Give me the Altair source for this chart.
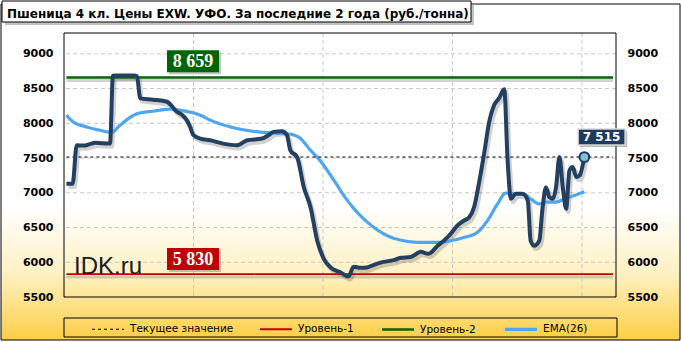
import altair as alt
import pandas as pd

# ---------------- data ----------------
title_text = "Пшеница 4 кл. Цены EXW. УФО. За последние 2 года (руб./тонна)"
tick_weeks = [0, 27, 54, 81, 108]
tick_labels = ["23.09.2016", "10.04.2017", "16.10.2017", "23.04.2018", "22.10.2018"]
y_ticks = [5500, 6000, 6500, 7000, 7500, 8000, 8500, 9000]

price_w = [0.5, 1.8, 2.65, 4.4, 5.4, 6.5, 9.6, 10.2, 10.8, 14.6, 15.2, 15.9, 18.6, 21.5, 22.2,
           23.5, 24.7, 25.6, 26.3, 27.0, 28.4, 30.5, 33.2, 36.1, 38.2, 41.3, 42.6, 43.7, 45.5,
           46.5, 47.2, 48.6, 50.0, 51.4, 52.8, 54.2, 55.6, 57.7, 59.3, 60.4, 61.8, 63.2, 64.5,
           66.6, 68.7, 70.2, 72.3, 74.4, 76.0, 77.9, 79.2, 80.6, 82.0, 83.4, 84.5, 85.5, 86.5,
           87.6, 88.6, 89.7, 90.7, 91.8, 92.5, 93.2, 94.2, 95.6, 96.7, 97.3, 98.0, 99.1, 99.8,
           100.5, 101.2, 101.9, 102.6, 103.3, 104.0, 104.7, 105.4, 106.1, 106.8, 107.5, 108.5]
price_v = [7130, 7130, 7684, 7680, 7700, 7720, 7709, 8686, 8690, 8690, 8680, 8359, 8340, 8310, 8270,
           8169, 8118, 8046, 7949, 7829, 7781, 7756, 7708, 7684, 7756, 7781, 7829, 7877, 7887,
           7829, 7612, 7515, 7081, 6792, 6310, 6046, 5925, 5853, 5795, 5937, 5920, 5925, 5960,
           6005, 6030, 6065, 6075, 6150, 6122, 6238, 6310, 6407, 6527, 6600, 6648, 6792, 7130,
           7564, 7998, 8263, 8359, 8489, 7467, 6913, 6986, 6986, 6889, 6310, 6238, 6310, 6792,
           7081, 6937, 6913, 7081, 7515, 7081, 6769, 7323, 7370, 7226, 7250, 7515]

ema_w = [0.5, 1.9, 4.7, 7.5, 9.9, 11.7, 15.2, 18.7, 22.1, 25.3, 28.4, 30.5, 34.7, 38.9, 43.0,
         47.2, 49.3, 51.4, 53.5, 56.3, 59.1, 61.8, 64.6, 67.4, 70.9, 74.4, 77.9, 81.3, 83.4,
         86.2, 88.3, 90.4, 92.1, 93.9, 96.0, 97.3, 99.1, 100.8, 102.6, 104.3, 106.4, 108.5]
ema_v = [8118, 8021, 7949, 7901, 7870, 7973, 8137, 8176, 8203, 8175, 8118, 8046, 7949, 7891, 7862,
         7843, 7781, 7612, 7455, 7178, 6889, 6672, 6503, 6383, 6310, 6286, 6286, 6320, 6358,
         6431, 6600, 6841, 6995, 6986, 6976, 6913, 6841, 6866, 6866, 6913, 6962, 7015]

series_names = ["Текущее значение", "Уровень-1", "Уровень-2", "EMA(26)"]
series_colors = ["#000000", "#c00000", "#006400", "#4ea5f0"]
series_dash = [[3, 3], [1, 0], [1, 0], [1, 0]]

current_value = 7515
level1_value = 5830
level2_value = 8659
level_names = ["Текущее значение", "Уровень-1", "Уровень-2"]
level_values = [current_value, level1_value, level2_value]
level_start = [0.5, 0.5, 0.5]
level_end = [114.5, 114.5, 114.5]

badge_text = ["8 659", "5 830"]
badge_w = [26.9, 26.9]
badge_v = [8895, 6047]
badge_fill = ["#006400", "#c00000"]

last_w = 108.5
last_badge_w = 112.1
last_badge_v = 7804
watermark = "IDK.ru"
watermark_w = 2.1
watermark_v = 5831

# ---------------- frames ----------------
price_df = pd.DataFrame({"w": price_w, "v": price_v})
ema_df = pd.DataFrame({"w": ema_w, "v": ema_v, "series": "EMA(26)"})
level_df = pd.DataFrame({"series": level_names, "v": level_values,
                         "w": level_start, "w2": level_end})
badge_df = pd.DataFrame({"t": badge_text, "w": badge_w, "v": badge_v, "fill": badge_fill})
last_df = pd.DataFrame({"w": [last_w], "v": [current_value]})
last_badge_df = pd.DataFrame({"w": [last_badge_w], "v": [last_badge_v], "t": ["7 515"]})
wm_df = pd.DataFrame({"w": [watermark_w], "v": [watermark_v], "t": [watermark]})
grid_y_df = pd.DataFrame({"v": y_ticks[1:]})
grid_x_df = pd.DataFrame({"w": tick_weeks[1:]})
one = alt.Data(values=[{"a": 1}])

W, H = 552, 264
xs = alt.Scale(domain=[0, 115.1], nice=False, zero=False)
ys = alt.Scale(domain=[5500, 9300], nice=False, zero=False)

label_expr = " : ".join(
    f"datum.value == {v} ? '{l}'" for v, l in zip(tick_weeks, tick_labels)) + " : ''"
x_axis = alt.Axis(values=tick_weeks, labelExpr=label_expr, grid=False, domain=False,
                  ticks=False, labelPadding=7, zindex=1,
                  labelFont="DejaVu Sans", labelFontWeight="bold", labelFontSize=10,
                  labelColor="#000000", title=None, labelFlush=False)
y_left = alt.Axis(values=y_ticks, orient="left", grid=False, domain=False, ticks=False,
                  labelPadding=11, zindex=1, format="d",
                  labelFont="DejaVu Sans", labelFontWeight="bold", labelFontSize=11,
                  labelColor="#000000", title=None)
y_right = alt.Axis(values=y_ticks, orient="right", grid=False, domain=False, ticks=False,
                   labelPadding=11, zindex=1, format="d",
                   labelFont="DejaVu Sans", labelFontWeight="bold",
                   labelFontSize=11, labelColor="#000000", title=None)

X = lambda ax=None: alt.X("w:Q", scale=xs, axis=ax)
Y = lambda ax=None: alt.Y("v:Q", scale=ys, axis=ax)


def leg():
    return alt.Legend(title=None, orient="none", direction="horizontal", columns=4,
                      legendX=26, legendY=278, symbolType="stroke", symbolSize=1024,
                      columnPadding=22, padding=0, labelFont="DejaVu Sans",
                      labelFontSize=10.5, labelColor="#000000", labelOffset=4)


color_enc = alt.Color("series:N", scale=alt.Scale(domain=series_names, range=series_colors),
                      legend=leg())
dash_enc = alt.StrokeDash("series:N", scale=alt.Scale(domain=series_names, range=series_dash),
                          legend=leg())
width_enc = alt.StrokeWidth("series:N",
                            scale=alt.Scale(domain=series_names, range=[1.2, 3.2], padding=0),
                            legend=leg())

grad = alt.LinearGradient(gradient="linear", x1=0, x2=0, y1=0, y2=1, stops=[
    alt.GradientStop(color="#ffffff", offset=0),
    alt.GradientStop(color="#ffffff", offset=0.6),
    alt.GradientStop(color="#fff1c4", offset=0.8),
    alt.GradientStop(color="#fdcf45", offset=1)])

bg = alt.Chart(one).mark_rect(fill=grad, stroke="#000000", strokeWidth=1).encode(
    x=alt.value(-63), x2=alt.value(616), y=alt.value(-29), y2=alt.value(307))

title_shadow = alt.Chart(one).mark_rect(fill="#9a9a9a", opacity=0.6).encode(
    x=alt.value(-59), x2=alt.value(410), y=alt.value(-29), y2=alt.value(-8))
title_box = alt.Chart(one).mark_rect(fill="#ffffff", stroke="#000000", strokeWidth=1).encode(
    x=alt.value(-62), x2=alt.value(407), y=alt.value(-32), y2=alt.value(-11))
title_txt = alt.Chart(one).mark_text(text=title_text, align="left", baseline="alphabetic",
                                     font="DejaVu Sans", fontWeight="bold", fontSize=12,
                                     color="#000000").encode(
    x=alt.value(-57), y=alt.value(-15))

legend_box = alt.Chart(one).mark_rect(fill=None, stroke="#000000", strokeWidth=1).encode(
    x=alt.value(0), x2=alt.value(553), y=alt.value(285), y2=alt.value(304))

grid_h = alt.Chart(grid_y_df).mark_rule(color="#c8c8c8", strokeWidth=1,
                                        strokeDash=[4, 3]).encode(y=Y())
grid_v = alt.Chart(grid_x_df).mark_rule(color="#c8c8c8", strokeWidth=1,
                                        strokeDash=[4, 3]).encode(x=X())
frame = alt.Chart(one).mark_rect(fill=None, stroke="#000000", strokeWidth=1).encode(
    x=alt.value(0), x2=alt.value(W), y=alt.value(0), y2=alt.value(H))

price_shadow = alt.Chart(price_df).mark_line(
    interpolate="monotone", color="#000000", opacity=0.18, strokeWidth=4.5,
    xOffset=2, yOffset=3).encode(x=X(), y=Y())
price = alt.Chart(price_df).mark_line(
    interpolate="monotone", color="#243f60", strokeWidth=4, strokeJoin="round").encode(
    x=X(x_axis), y=Y(y_left))

ema = alt.Chart(ema_df).mark_line(interpolate="monotone").encode(
    x=X(), y=Y(y_right), color=color_enc, strokeDash=dash_enc, strokeWidth=width_enc)

level_shadow = alt.Chart(level_df).transform_filter(
    alt.datum.series != "Текущее значение").mark_rule(
    color="#808080", opacity=0.35, strokeWidth=3, yOffset=3).encode(
    x=X(), x2="w2:Q", y=Y())
levels = alt.Chart(level_df).mark_rule().encode(
    x=X(), x2="w2:Q", y=Y(), color=color_enc, strokeDash=dash_enc, strokeWidth=width_enc)

badge_shadow = alt.Chart(badge_df).mark_rect(width=52, height=22, fill="#888888",
                                             opacity=0.5, xOffset=2, yOffset=2).encode(
    x=X(), y=Y())
badges = alt.Chart(badge_df).mark_rect(width=52, height=22).encode(
    x=X(), y=Y(), fill=alt.Fill("fill:N", scale=None, legend=None))
badge_txt = alt.Chart(badge_df).mark_text(font="Liberation Serif", fontWeight="bold",
                                          fontSize=18, color="#ffffff", baseline="middle",
                                          dy=1).encode(
    x=X(), y=Y(), text="t:N")

wm = alt.Chart(wm_df).mark_text(font="Liberation Sans", fontSize=24, color="#1a1a1a",
                                align="left", baseline="alphabetic").encode(
    x=X(), y=Y(), text="t:N")

last_pt = alt.Chart(last_df).mark_point(filled=True, fill="#7fbfdf", stroke="#1f3a5f",
                                        strokeWidth=2, size=95, opacity=1).encode(
    x=X(), y=Y())
last_badge_shadow = alt.Chart(last_badge_df).mark_rect(width=47, height=16, fill="#777777",
                                                       opacity=0.5, xOffset=2, yOffset=2).encode(
    x=X(), y=Y())
last_badge = alt.Chart(last_badge_df).mark_rect(width=47, height=16, fill="#1f3a5f",
                                                stroke="#d9d9d9", strokeWidth=1.5).encode(
    x=X(), y=Y())
last_badge_txt = alt.Chart(last_badge_df).mark_text(font="DejaVu Sans", fontWeight="bold",
                                                    fontSize=12, color="#ffffff",
                                                    baseline="middle").encode(
    x=X(), y=Y(), text="t:N")

chart = alt.layer(
    bg, title_shadow, title_box, title_txt, legend_box, grid_h, grid_v, frame,
    level_shadow, price_shadow, ema, levels, price,
    badge_shadow, badges, badge_txt, wm,
    last_pt, last_badge_shadow, last_badge, last_badge_txt,
).resolve_axis(y="independent").properties(
    width=W, height=H,
    autosize=alt.AutoSizeParams(type="none"),
    padding={"left": 64, "top": 33, "right": 66, "bottom": 45},
    background="#ffffff",
).configure_view(stroke=None, fill=None)

chart.save("out.html", embed_options={"renderer": "svg", "actions": False})
